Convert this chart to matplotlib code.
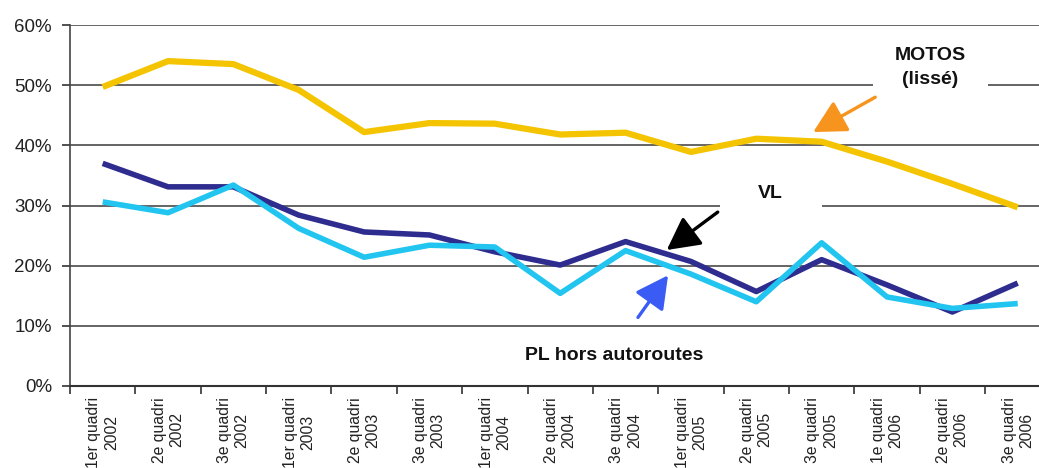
import matplotlib
matplotlib.use("Agg")
import matplotlib.pyplot as plt
from matplotlib.patches import Rectangle

plt.rcParams['font.family'] = ['Liberation Sans', 'DejaVu Sans']

categories = ["1er quadri\n2002", "2e quadri\n2002", "3e quadri\n2002",
              "1er quadri\n2003", "2e quadri\n2003", "3e quadri\n2003",
              "1er quadri\n2004", "2e quadri\n2004", "3e quadri\n2004",
              "1er quadri\n2005", "2e quadri\n2005", "3e quadri\n2005",
              "1e quadri\n2006", "2e quadri\n2006", "3e quadri\n2006"]

motos = [49.7, 54.0, 53.5, 49.2, 42.2, 43.7, 43.6, 41.8, 42.1, 38.9, 41.1, 40.6, 37.3, 33.6, 29.7]
vl = [37.0, 33.1, 33.1, 28.4, 25.6, 25.1, 22.3, 20.1, 24.0, 20.7, 15.7, 21.0, 16.8, 12.3, 17.1]
pl = [30.6, 28.8, 33.4, 26.2, 21.4, 23.4, 23.1, 15.4, 22.5, 18.6, 14.0, 23.8, 14.8, 12.9, 13.7]

yticks = [0, 10, 20, 30, 40, 50, 60]
ytick_labels = ["0%", "10%", "20%", "30%", "40%", "50%", "60%"]

W, H = 1039, 468
fig = plt.figure(figsize=(W / 100, H / 100), dpi=100)
ax = fig.add_axes([70 / W, (H - 386) / H, 980.4 / W, 361 / H])

x = list(range(len(categories)))

ax.plot(x, motos, color="#F5C400", lw=4.5, zorder=3, solid_capstyle="butt")
ax.plot(x, vl, color="#2E2D8F", lw=4.0, zorder=3, solid_capstyle="butt")
ax.plot(x, pl, color="#22C4F0", lw=4.0, zorder=3.5, solid_capstyle="butt")

ax.set_xlim(-0.5, len(categories) - 0.5)
ax.set_ylim(0, 60)

ax.set_yticks(yticks)
ax.set_yticklabels(ytick_labels, fontsize=13.5, color="#222222")
ax.yaxis.grid(True, color="#4a4a4a", lw=1.2, zorder=0.5)
ax.set_axisbelow(True)

ax.set_xticks(x)
ax.set_xticklabels(categories, rotation=90, fontsize=11.3, color="#222222",
                   ha="center", va="top", multialignment="center")
ax.set_xticks([i - 0.5 for i in range(len(categories) + 1)], minor=True)
ax.tick_params(axis="x", which="major", length=0, pad=8)
ax.tick_params(axis="x", which="minor", length=6, width=1.2, direction="out", color="#333333")
ax.tick_params(axis="y", length=6, width=1.2, direction="out", color="#333333", pad=7)

for s in ["top", "right"]:
    ax.spines[s].set_visible(False)
ax.spines["left"].set_color("#444444")
ax.spines["left"].set_linewidth(1.2)
ax.spines["bottom"].set_color("#333333")
ax.spines["bottom"].set_linewidth(1.5)

# white boxes hiding gridlines behind labels
ax.add_patch(Rectangle((11.79, 47.3), 1.76, 9.5, facecolor="white", edgecolor="none", zorder=1))
ax.add_patch(Rectangle((9.45, 28.6), 1.55, 6.5, facecolor="white", edgecolor="none", zorder=1))

ax.text(12.66, 52.9, "MOTOS\n(lissé)", ha="center", va="center", fontsize=14,
        fontweight="bold", linespacing=1.5, color="#111111", zorder=2)
ax.text(10.21, 32.0, "VL", ha="center", va="center", fontsize=14,
        fontweight="bold", color="#111111", zorder=2)
ax.text(7.82, 5.1, "PL hors autoroutes", ha="center", va="center", fontsize=14,
        fontweight="bold", color="#111111", zorder=2)

def arrow(tail, head, color):
    ax.annotate("", xy=head, xytext=tail,
                arrowprops=dict(arrowstyle="-|>,head_length=0.95,head_width=0.5",
                                lw=2.4, color=color, shrinkA=0, shrinkB=0,
                                mutation_scale=21),
                zorder=5)

arrow((11.82, 48.0), (10.87, 42.2), "#F7941E")
arrow((9.41, 28.9), (8.63, 22.6), "#000000")
arrow((8.19, 11.4), (8.65, 18.4), "#3A5CF5")

fig.savefig("out.png", dpi=100)
